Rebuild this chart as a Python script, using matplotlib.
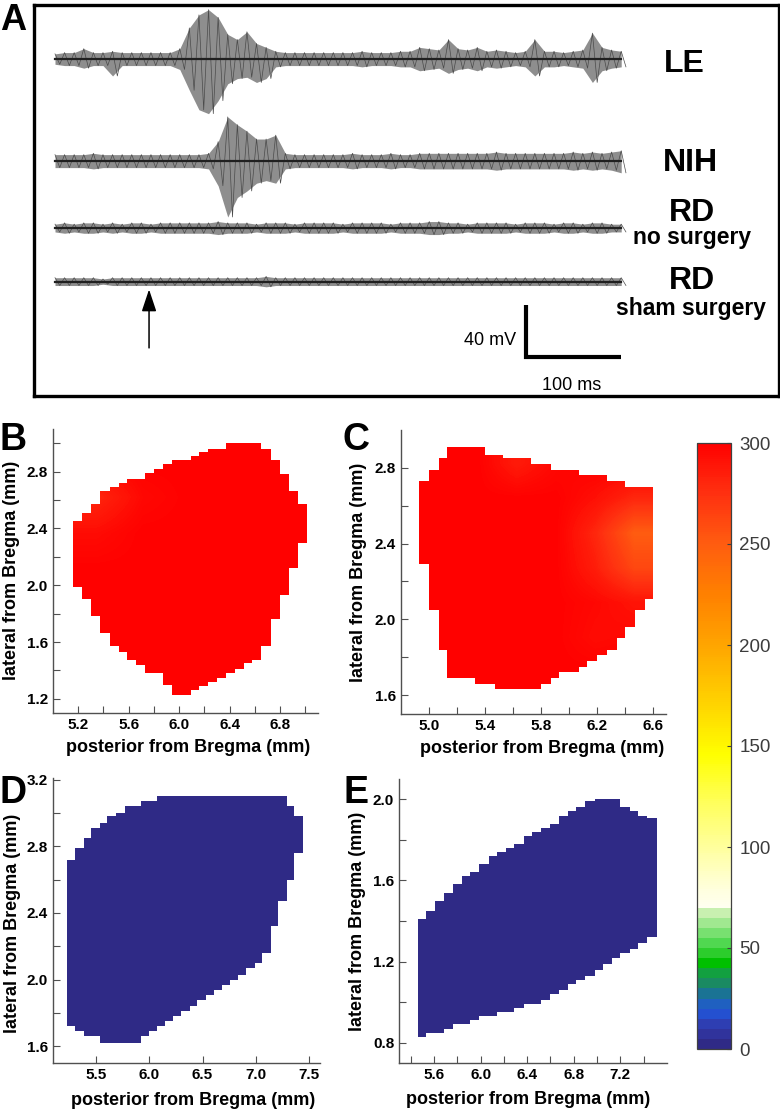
import numpy as np
import matplotlib
matplotlib.use('Agg')
import matplotlib.pyplot as plt
from matplotlib.colors import ListedColormap, LinearSegmentedColormap, Normalize
from matplotlib.cm import ScalarMappable
from matplotlib.patches import FancyArrowPatch

plt.rcParams['font.family'] = ['Liberation Sans', 'DejaVu Sans']

# ---- panel A: field potential traces (envelope, mV above / below baseline every ~10 ms)
trace_t = np.linspace(0, 596, 60)
le_up = [4, 5, 5, 8, 5, 5, 6, 5, 5, 5, 5, 5, 5, 8, 24, 34, 38, 32, 19, 15,
         21, 12, 9, 6, 5, 5, 5, 5, 5, 5, 5, 5, 6, 5, 5, 5, 6, 6, 9, 8,
         7, 15, 8, 7, 9, 6, 7, 6, 5, 6, 15, 6, 6, 5, 6, 7, 20, 9, 7, 6]
le_down = [4, 5, 5, 7, 5, 5, 13, 5, 5, 5, 5, 5, 5, 8, 24, 39, 42, 32, 19, 15,
           14, 18, 15, 6, 5, 5, 5, 5, 5, 5, 5, 5, 6, 5, 5, 5, 6, 6, 9, 8,
           7, 11, 8, 7, 9, 6, 7, 6, 5, 6, 13, 6, 6, 5, 6, 7, 18, 9, 7, 6]
nih_up = [5, 5, 5, 5, 6, 5, 5, 5, 5, 5, 5, 5, 5, 5, 5, 5, 6, 15, 34, 28,
          23, 17, 17, 20, 6, 5, 5, 5, 5, 5, 5, 6, 5, 5, 5, 6, 5, 5, 6, 6,
          6, 6, 6, 6, 6, 6, 7, 6, 6, 6, 6, 6, 6, 6, 7, 6, 7, 6, 7, 8]
nih_down = [5, 5, 5, 5, 6, 5, 5, 5, 5, 5, 5, 5, 5, 5, 5, 5, 6, 19, 43, 28,
            23, 17, 15, 17, 6, 5, 5, 5, 5, 5, 5, 6, 5, 5, 5, 6, 5, 5, 6, 6,
            6, 6, 6, 6, 6, 6, 7, 6, 6, 6, 6, 6, 6, 6, 7, 6, 7, 6, 7, 9]
rd_amp = [3, 4, 3, 4, 4, 3, 4, 3, 4, 4, 3, 4, 4, 4, 4, 4, 4, 5, 4, 4,
          4, 3, 4, 4, 4, 3, 4, 4, 4, 4, 3, 4, 4, 4, 4, 3, 4, 4, 4, 5,
          5, 4, 4, 3, 4, 4, 4, 4, 3, 4, 4, 4, 3, 4, 4, 3, 4, 4, 3, 3]
sham_amp = [3, 3, 3, 3, 3, 2, 3, 3, 3, 3, 3, 3, 3, 3, 3, 3, 3, 3, 3, 3,
            3, 3, 4, 3, 3, 3, 3, 3, 3, 3, 3, 3, 3, 3, 3, 3, 3, 3, 3, 3,
            3, 3, 3, 3, 3, 3, 3, 3, 3, 3, 3, 3, 3, 3, 3, 3, 3, 3, 3, 3]
trace_names = ['LE', 'NIH', 'RD', 'RD']
trace_sub = ['', '', 'no surgery', 'sham surgery']

# ---- panels B-E: staircase maps (column edges, top and bottom of each column, mm)
b_edges = [5.16, 5.23, 5.30, 5.37, 5.45, 5.52, 5.59, 5.66, 5.73, 5.80, 5.87, 5.94, 6.01, 6.09,
           6.16, 6.23, 6.30, 6.37, 6.44, 6.51, 6.58, 6.65, 6.73, 6.80, 6.87, 6.94, 7.01]
b_top = [2.45, 2.51, 2.57, 2.66, 2.69, 2.72, 2.75, 2.75, 2.79, 2.82, 2.85, 2.88, 2.88, 2.91,
         2.94, 2.96, 2.96, 3.00, 3.00, 3.00, 3.00, 2.96, 2.88, 2.78, 2.66, 2.57]
b_bot = [1.99, 1.90, 1.78, 1.66, 1.57, 1.53, 1.47, 1.44, 1.38, 1.38, 1.30, 1.23, 1.23, 1.26,
         1.29, 1.32, 1.35, 1.38, 1.41, 1.45, 1.47, 1.57, 1.76, 1.93, 2.12, 2.30]
# coarse value grid (rows bottom -> top) over the map's bounding box
b_vals = [[300, 300, 300, 300, 300],
          [300, 300, 300, 300, 300],
          [300, 300, 300, 300, 300],
          [300, 300, 300, 300, 300],
          [294, 300, 300, 300, 300],
          [280, 296, 300, 300, 300],
          [296, 300, 300, 300, 300]]

c_edges = [4.93, 5.00, 5.07, 5.13, 5.20, 5.27, 5.33, 5.40, 5.47, 5.53, 5.60, 5.67, 5.73,
           5.80, 5.87, 5.93, 6.00, 6.07, 6.13, 6.20, 6.27, 6.34, 6.40, 6.47, 6.54, 6.60]
c_top = [2.73, 2.79, 2.85, 2.91, 2.91, 2.91, 2.91, 2.87, 2.87, 2.85, 2.85, 2.85, 2.82,
         2.82, 2.79, 2.79, 2.79, 2.76, 2.76, 2.76, 2.73, 2.73, 2.70, 2.70, 2.70]
c_bot = [2.29, 2.05, 1.84, 1.69, 1.69, 1.69, 1.66, 1.66, 1.63, 1.63, 1.63, 1.63, 1.63,
         1.66, 1.69, 1.72, 1.72, 1.75, 1.78, 1.81, 1.84, 1.90, 1.96, 2.05, 2.11]
c_vals = [[300, 300, 300, 300, 300, 300],
          [300, 300, 300, 300, 294, 296],
          [300, 300, 300, 300, 296, 290],
          [300, 300, 300, 300, 285, 262],
          [300, 300, 300, 300, 280, 250],
          [300, 300, 300, 300, 292, 280],
          [300, 300, 286, 296, 300, 300]]

d_edges = [5.23, 5.31, 5.39, 5.46, 5.54, 5.61, 5.69, 5.77, 5.84, 5.92, 6.00, 6.07, 6.15, 6.22, 6.30,
           6.38, 6.45, 6.53, 6.61, 6.68, 6.76, 6.83, 6.91, 6.99, 7.06, 7.14, 7.21, 7.29, 7.36, 7.44]
d_top = [2.72, 2.79, 2.85, 2.91, 2.94, 2.98, 3.00, 3.04, 3.04, 3.07, 3.07, 3.10, 3.10, 3.10, 3.10,
         3.10, 3.10, 3.10, 3.10, 3.10, 3.10, 3.10, 3.10, 3.10, 3.10, 3.10, 3.10, 3.04, 2.98]
d_bot = [1.72, 1.69, 1.66, 1.66, 1.62, 1.62, 1.62, 1.62, 1.62, 1.66, 1.69, 1.72, 1.75, 1.78, 1.81,
         1.84, 1.88, 1.91, 1.94, 1.97, 2.00, 2.03, 2.07, 2.10, 2.16, 2.32, 2.47, 2.60, 2.76]
d_vals = [[0]]

e_edges = [5.46, 5.53, 5.61, 5.69, 5.76, 5.84, 5.91, 5.99, 6.07, 6.14, 6.22, 6.29, 6.37, 6.44,
           6.52, 6.60, 6.67, 6.75, 6.82, 6.90, 6.98, 7.05, 7.13, 7.20, 7.28, 7.35, 7.43, 7.51]
e_top = [1.41, 1.45, 1.50, 1.54, 1.58, 1.62, 1.64, 1.68, 1.72, 1.74, 1.76, 1.78, 1.82, 1.84,
         1.86, 1.88, 1.92, 1.94, 1.96, 1.99, 2.00, 2.00, 2.00, 1.96, 1.94, 1.92, 1.91]
e_bot = [0.83, 0.85, 0.85, 0.87, 0.89, 0.89, 0.91, 0.93, 0.93, 0.95, 0.95, 0.97, 0.99, 0.99,
         1.01, 1.04, 1.06, 1.09, 1.11, 1.13, 1.16, 1.19, 1.22, 1.24, 1.26, 1.29, 1.32]
e_vals = [[0]]

# colour scale: stepped below 70, smooth above
cbar_ticks = [0, 50, 100, 150, 200, 250, 300]
band_colors = ['#2f2a86', '#30339c', '#2e3eb2', '#2450d0', '#1f60c0', '#1a7394', '#1a8a62',
               '#12a040', '#00c000', '#2ccd2c', '#50d850', '#78e070', '#a0e890', '#c8f0b0']
smooth_vals = [70, 80, 100, 120, 145, 175, 200, 225, 250, 275, 300]
smooth_cols = ['#fffff0', '#ffffd8', '#ffff9a', '#ffff60', '#ffff00', '#ffcc00',
               '#ffa400', '#ff8000', '#ff5c10', '#ff3010', '#ff0000']

W, H = 780, 1111
fig = plt.figure(figsize=(W / 100, H / 100), dpi=100)


def px_axes(left, top, right, bottom):
    return fig.add_axes([left / W, 1 - bottom / H, (right - left) / W, (bottom - top) / H])


smooth = LinearSegmentedColormap.from_list(
    'smooth', list(zip([(v - 70) / 230 for v in smooth_vals], smooth_cols)))
cols = [band_colors[v // 5] if v < 70 else smooth((v - 70) / 230) for v in range(300)]
cmap = ListedColormap(cols)
norm = Normalize(0, 300)

# ---------------- panel A
axA = px_axes(34, 5, 779, 396)
axA.set_xlim(-22.1, 762.1)
axA.set_ylim(0, 300.8)
axA.set_xticks([])
axA.set_yticks([])
for s in axA.spines.values():
    s.set_linewidth(2.4)
    s.set_color('black')

bases = [259.2, 180.7, 129.2, 88.0]
ups = [le_up, nih_up, rd_amp, sham_amp]
downs = [le_down, nih_down, rd_amp, sham_amp]
for base, up, dn in zip(bases, ups, downs):
    hi = base + np.array(up)
    lo = base - np.array(dn)
    axA.fill_between(trace_t, lo, hi, color='#8e8e8e', lw=0)
    # zigzag between the peaks of each bin
    zx = np.column_stack([trace_t, trace_t + 5]).ravel()
    zy = np.column_stack([hi, lo]).ravel()
    axA.plot(zx, zy, color='#4a4a4a', lw=0.5)
    axA.plot(trace_t, np.full(len(trace_t), base), color='#202020', lw=1.6)

name_pos = [(662, 249.3), (668.4, 173.0), (670.5, 134.5), (670.5, 82.2)]
sub_pos = [None, None, (671, 117.0), (669.5, 62.0)]
for name, sub, p, sp in zip(trace_names, trace_sub, name_pos, sub_pos):
    axA.text(p[0], p[1], name, ha='center', va='baseline', fontsize=23, fontweight='bold')
    if sub:
        axA.text(sp[0], sp[1], sub, ha='center', va='baseline', fontsize=16.5, fontweight='bold')

# stimulus arrow
axA.add_patch(FancyArrowPatch((99, 37), (99, 82), arrowstyle='-|>,head_length=0.9,head_width=0.3',
                              mutation_scale=15, color='black', lw=1.1, shrinkA=0, shrinkB=0))
# scale bar 40 mV / 100 ms
axA.plot([496, 496, 596], [70, 30, 30], color='black', lw=3, solid_joinstyle='miter',
         solid_capstyle='butt')
axA.text(485.3, 39.2, '40 mV', ha='right', va='baseline', fontsize=13)
axA.text(544.2, 4.6, '100 ms', ha='center', va='baseline', fontsize=13)

fig.text(0 / W, 1 - 30 / H, 'A', fontsize=26, fontweight='bold', va='baseline')


# ---------------- panels B-E
def draw_map(ax, edges, tops, bots, vals):
    lo = np.append(bots, bots[-1])
    hi = np.append(tops, tops[-1])
    base_col = cmap(norm(np.max(vals)))
    poly = ax.fill_between(edges, lo, hi, step='post', color=base_col, lw=0, zorder=1)
    ext = (edges[0], edges[-1], min(bots), max(tops))
    im = ax.imshow(np.array(vals, dtype=float), origin='lower', extent=ext, cmap=cmap, norm=norm,
                   interpolation='bilinear', aspect='auto', zorder=2)
    im.set_clip_path(poly.get_paths()[0], transform=ax.transData)


def style_axes(ax, xlim, ylim, xmaj, xmin, ymaj, ymin, ylab_xy, xlab_xy):
    ax.set_xlim(*xlim)
    ax.set_ylim(*ylim)
    for side in ['top', 'right']:
        ax.spines[side].set_visible(False)
    for side in ['left', 'bottom']:
        ax.spines[side].set_color('#505050')
        ax.spines[side].set_linewidth(1.0)
    ax.set_xticks(xmaj, ['{:.1f}'.format(v) for v in xmaj], fontweight='bold', fontsize=11)
    ax.set_yticks(ymaj, ['{:.1f}'.format(v) for v in ymaj], fontweight='bold', fontsize=11)
    ax.set_xticks(xmin, minor=True)
    ax.set_yticks(ymin, minor=True)
    ax.tick_params(which='both', direction='in', length=5, width=0.8, color='#505050', pad=3.5)
    ax.set_ylabel('lateral from Bregma (mm)', fontsize=13, fontweight='bold', va='center')
    ax.set_xlabel('posterior from Bregma (mm)', fontsize=13, fontweight='bold', va='center')
    ax.yaxis.set_label_coords(*ylab_xy)
    ax.xaxis.set_label_coords(*xlab_xy)


axB = px_axes(53, 429, 318, 713)
draw_map(axB, b_edges, b_top, b_bot, b_vals)
style_axes(axB, (5.0, 7.1), (1.1, 3.1), [5.2, 5.6, 6.0, 6.4, 6.8], [5.4, 5.8, 6.2, 6.6, 7.0],
           [1.2, 1.6, 2.0, 2.4, 2.8], [1.4, 1.8, 2.2, 2.6, 3.0],
           (-0.158, 0.503), (0.511, -0.123))

axC = px_axes(401, 430, 666, 714)
draw_map(axC, c_edges, c_top, c_bot, c_vals)
style_axes(axC, (4.8, 6.69), (1.5, 3.0), [5.0, 5.4, 5.8, 6.2, 6.6], [5.2, 5.6, 6.0, 6.4],
           [1.6, 2.0, 2.4, 2.8], [1.8, 2.2, 2.6],
           (-0.162, 0.5), (0.534, -0.12))

axD = px_axes(53, 778, 320, 1063)
draw_map(axD, d_edges, d_top, d_bot, d_vals)
style_axes(axD, (5.1, 7.6), (1.5, 3.21), [5.5, 6.0, 6.5, 7.0, 7.5], [],
           [1.6, 2.0, 2.4, 2.8, 3.2], [1.8, 2.2, 2.6, 3.0],
           (-0.150, 0.491), (0.524, -0.13))

axE = px_axes(399, 779, 667, 1063)
draw_map(axE, e_edges, e_top, e_bot, e_vals)
style_axes(axE, (5.3, 7.6), (0.7, 2.1), [5.6, 6.0, 6.4, 6.8, 7.2], [5.4, 5.8, 6.2, 6.6, 7.0, 7.4],
           [0.8, 1.2, 1.6, 2.0], [1.0, 1.4, 1.8],
           (-0.153, 0.5), (0.483, -0.13))

for letter, x, y in [('B', 0, 450), ('C', 343, 450), ('D', 0, 803), ('E', 343, 803)]:
    fig.text(x / W, 1 - y / H, letter, fontsize=27, fontweight='bold', va='baseline')

# ---------------- colour bar
cax = px_axes(697, 443, 731, 1049)
cb = fig.colorbar(ScalarMappable(norm=norm, cmap=cmap), cax=cax)
cb.outline.set_linewidth(0.9)
cb.outline.set_edgecolor('#404040')
cax.set_yticks(cbar_ticks, [str(v) for v in cbar_ticks], fontsize=13.5, color='#3c3c3c')
cax.tick_params(direction='in', length=3, width=0.8, color='#404040', pad=6)

fig.savefig('out.png', dpi=100)
